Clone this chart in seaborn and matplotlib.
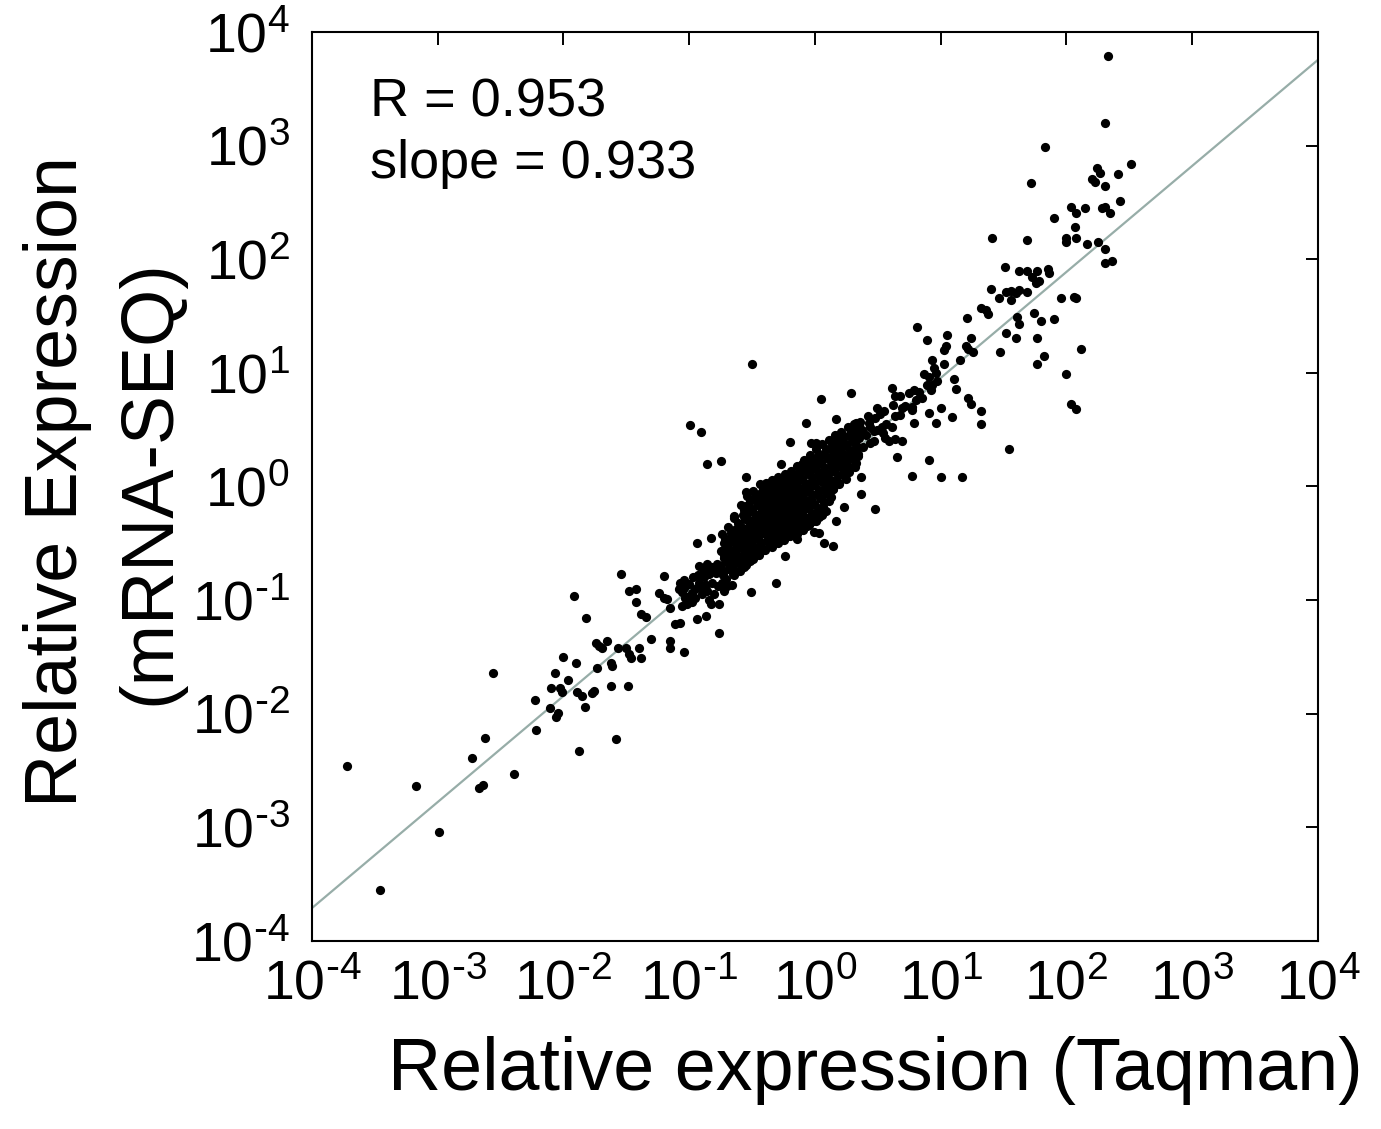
import numpy as np
import pandas as pd
import matplotlib
matplotlib.use("Agg")
import matplotlib.pyplot as plt
from matplotlib.ticker import NullLocator
import seaborn as sns

# --- values, as log10 of expression ---
# sparse points, low end (x: Taqman, y: mRNA-SEQ)
low_taqman = [-2.00, -1.90, -2.56, -2.07, -1.96, -2.10, -2.03, -2.01, -1.89, -1.85,
              -1.76, -1.77, -2.23, -2.11, -1.83, -2.04, -2.06, -2.22, -2.62, -1.88,
              -3.72, -2.73, -2.39, -3.17, -2.67, -2.64, -2.99, -3.46, -1.74,
              -0.94, -0.86, -0.82, -0.79, -0.84, -0.88, -0.92, -1.54, -1.20, -1.92,
              -1.07, -1.08, -1.04, -0.92, -0.90, -0.87, -1.48, -1.42, -1.24, -1.20,
              -1.18, -1.03, -0.99, -0.95, -0.98, -1.02, -1.06, -0.84, -0.83, -1.42,
              -1.15, -0.76, -1.38, -1.34, -1.82, -0.94, -0.87, -1.11, -1.07, -1.30,
              -1.15, -1.15, -1.04, -1.65, -1.72, -1.69, -1.57, -1.50, -1.48, -1.46,
              -1.40, -1.38, -1.62, -1.61, -1.73, -1.62, -1.49, -1.58]
low_seq = [-1.50, -1.55, -1.64, -1.64, -1.70, -1.77, -1.77, -1.81, -1.81, -1.84,
           -1.80, -1.82, -1.88, -1.95, -1.94, -1.99, -2.03, -2.14, -2.21, -2.33,
           -2.46, -2.39, -2.53, -2.64, -2.65, -2.63, -3.04, -3.55, -1.38,
           -0.50, -0.68, -0.71, -0.76, -0.77, -0.74, -0.70, -0.77, -0.79, -0.96,
           -0.85, -0.90, -0.89, -0.85, -0.89, -0.87, -0.92, -0.90, -0.94, -0.98,
           -0.99, -0.98, -1.00, -0.98, -0.94, -1.03, -1.05, -1.00, -1.03, -1.02,
           -1.07, -1.03, -1.12, -1.15, -1.16, -1.17, -1.14, -1.21, -1.20, -1.34,
           -1.36, -1.42, -1.46, -1.36, -1.40, -1.42, -1.42, -1.42, -1.47, -1.51,
           -1.42, -1.51, -1.55, -1.58, -1.60, -1.76, -1.76, -2.22]

# sparse points around the dense cluster
mid_taqman = [-0.76, -0.31, -0.51, -0.45, -0.24, -0.14, -0.83, -0.64, -0.55, -0.55,
              -0.55, -0.27, -0.10, -0.02, -0.20, -0.03, 0.01, -0.07, -0.86, -0.75,
              -0.99, -0.91, -0.50,
              -1.04, -1.00, -0.97, -0.95, -0.93, -0.90, -0.88, -0.86, -0.84, -0.82,
              -0.80, -0.78, -0.77, -0.74, -0.72, -0.70, -0.66, -1.06, -1.02, -0.98]
mid_seq = [-1.29, -0.85, -0.93, -0.59, -0.61, -0.46, -0.45, -0.26, -0.17, -0.05,
           0.08, 0.20, 0.20, 0.23, 0.39, 0.38, 0.38, 0.56, 0.20, 0.22,
           0.54, 0.48, 1.08,
           -0.82, -0.86, -0.80, -0.90, -0.78, -0.95, -0.80, -0.92, -0.72, -0.85,
           -0.95, -0.68, -0.88, -0.85, -0.92, -0.88, -0.87, -0.93, -0.97, -1.02]

# dense cluster around 10^0
core_taqman = [
    -0.74, -0.725, -0.75, -0.72, -0.755, -0.73,
    -0.69, -0.675, -0.70, -0.67, -0.705, -0.68, -0.71,
    -0.64, -0.625, -0.65, -0.62, -0.655, -0.63, -0.66, -0.645,
    -0.59, -0.575, -0.60, -0.57, -0.605, -0.58, -0.61, -0.585, -0.595,
    -0.54, -0.525, -0.55, -0.52, -0.555, -0.53, -0.56, -0.535, -0.545,
    -0.49, -0.475, -0.50, -0.47, -0.505, -0.48, -0.51, -0.485, -0.495,
    -0.44, -0.425, -0.45, -0.42, -0.455, -0.43, -0.46, -0.435, -0.445,
    -0.39, -0.375, -0.40, -0.37, -0.405, -0.38, -0.41, -0.385, -0.395,
    -0.34, -0.325, -0.35, -0.32, -0.355, -0.33, -0.36, -0.335, -0.345,
    -0.29, -0.275, -0.30, -0.27, -0.305, -0.28, -0.31, -0.285, -0.295,
    -0.24, -0.225, -0.25, -0.22, -0.255, -0.23, -0.26, -0.235, -0.245,
    -0.19, -0.175, -0.20, -0.17, -0.205, -0.18, -0.21, -0.185, -0.195,
    -0.14, -0.125, -0.15, -0.12, -0.155, -0.13, -0.16, -0.135, -0.145,
    -0.09, -0.075, -0.10, -0.07, -0.105, -0.08, -0.11, -0.085, -0.095,
    -0.04, -0.025, -0.05, -0.02, -0.055, -0.03, -0.06, -0.035, -0.045,
    0.01, 0.025, 0.00, 0.03, -0.005, 0.02, -0.01, 0.015, 0.005,
    0.06, 0.075, 0.05, 0.08, 0.045, 0.07, 0.04, 0.065, 0.055,
    0.11, 0.125, 0.10, 0.13, 0.095, 0.12, 0.09, 0.115,
    0.16, 0.175, 0.15, 0.18, 0.145, 0.17, 0.14,
    0.21, 0.225, 0.20, 0.23, 0.195, 0.22, 0.19,
    0.26, 0.275, 0.25, 0.28, 0.245, 0.27,
    0.31, 0.325, 0.30, 0.33, 0.295, 0.32,
    0.36, 0.375, 0.35, 0.38, 0.345,
    0.42, 0.435, 0.41, 0.44,
    0.48, 0.495, 0.47,
    0.55, 0.565, 0.54,
    0.62, 0.635, 0.61]
core_seq = [
    -0.42, -0.50, -0.57, -0.63, -0.70, -0.78,
    -0.36, -0.45, -0.52, -0.59, -0.66, -0.73, -0.81,
    -0.28, -0.37, -0.44, -0.50, -0.57, -0.64, -0.71, -0.78,
    -0.16, -0.25, -0.33, -0.40, -0.47, -0.54, -0.61, -0.68, -0.74,
    -0.08, -0.18, -0.26, -0.33, -0.41, -0.48, -0.55, -0.62, -0.69,
    -0.04, -0.12, -0.20, -0.28, -0.35, -0.42, -0.50, -0.57, -0.64,
    0.02, -0.06, -0.14, -0.22, -0.30, -0.37, -0.45, -0.52, -0.60,
    0.03, -0.05, -0.12, -0.19, -0.27, -0.34, -0.41, -0.48, -0.56,
    0.06, -0.02, -0.09, -0.17, -0.24, -0.31, -0.38, -0.45, -0.53,
    0.08, 0.01, -0.07, -0.14, -0.21, -0.28, -0.35, -0.42, -0.50,
    0.11, 0.03, -0.04, -0.11, -0.18, -0.25, -0.32, -0.40, -0.47,
    0.14, 0.06, -0.01, -0.08, -0.15, -0.22, -0.30, -0.37, -0.44,
    0.18, 0.10, 0.03, -0.05, -0.12, -0.19, -0.27, -0.34, -0.42,
    0.23, 0.15, 0.07, 0.00, -0.08, -0.15, -0.23, -0.31, -0.38,
    0.28, 0.20, 0.12, 0.05, -0.03, -0.11, -0.19, -0.27, -0.34,
    0.33, 0.25, 0.17, 0.09, 0.01, -0.07, -0.15, -0.23, -0.30,
    0.37, 0.29, 0.21, 0.13, 0.06, -0.02, -0.10, -0.18, -0.25,
    0.41, 0.33, 0.25, 0.18, 0.10, 0.02, -0.06, -0.13,
    0.45, 0.37, 0.29, 0.22, 0.14, 0.06, -0.02,
    0.48, 0.40, 0.33, 0.25, 0.18, 0.10, 0.03,
    0.52, 0.44, 0.36, 0.29, 0.21, 0.13,
    0.55, 0.47, 0.40, 0.33, 0.25, 0.17,
    0.57, 0.50, 0.43, 0.35, 0.27,
    0.62, 0.52, 0.45, 0.38,
    0.60, 0.50, 0.40,
    0.66, 0.55, 0.47,
    0.72, 0.62, 0.52]

# more cluster points lying between the ones above
fill_taqman = [
    -0.715, -0.705, -0.725, -0.71, -0.72,
    -0.665, -0.655, -0.675, -0.66, -0.67, -0.655,
    -0.615, -0.605, -0.625, -0.61, -0.62, -0.605, -0.625,
    -0.565, -0.555, -0.575, -0.56, -0.57, -0.555, -0.575, -0.565,
    -0.515, -0.505, -0.525, -0.51, -0.52, -0.505, -0.525, -0.515,
    -0.465, -0.455, -0.475, -0.46, -0.47, -0.455, -0.475, -0.465,
    -0.415, -0.405, -0.425, -0.41, -0.42, -0.405, -0.425, -0.415,
    -0.365, -0.355, -0.375, -0.36, -0.37, -0.355, -0.375, -0.365,
    -0.315, -0.305, -0.325, -0.31, -0.32, -0.305, -0.325, -0.315,
    -0.265, -0.255, -0.275, -0.26, -0.27, -0.255, -0.275, -0.265,
    -0.215, -0.205, -0.225, -0.21, -0.22, -0.205, -0.225, -0.215,
    -0.165, -0.155, -0.175, -0.16, -0.17, -0.155, -0.175, -0.165,
    -0.115, -0.105, -0.125, -0.11, -0.12, -0.105, -0.125, -0.115,
    -0.065, -0.055, -0.075, -0.06, -0.07, -0.055, -0.075, -0.065,
    -0.015, -0.005, -0.025, -0.01, -0.02, -0.005, -0.025, -0.015,
    0.035, 0.045, 0.025, 0.04, 0.03, 0.045, 0.025, 0.035,
    0.085, 0.095, 0.075, 0.09, 0.08, 0.095, 0.075, 0.085,
    0.135, 0.145, 0.125, 0.14, 0.13, 0.145, 0.125,
    0.185, 0.195, 0.175, 0.19, 0.18, 0.195,
    0.235, 0.245, 0.225, 0.24, 0.23, 0.245,
    0.285, 0.295, 0.275, 0.29, 0.28,
    0.335, 0.345, 0.325, 0.34, 0.33]
fill_seq = [
    -0.46, -0.535, -0.60, -0.665, -0.74,
    -0.405, -0.485, -0.555, -0.625, -0.695, -0.77,
    -0.325, -0.405, -0.47, -0.535, -0.605, -0.675, -0.745,
    -0.205, -0.29, -0.365, -0.435, -0.505, -0.575, -0.645, -0.71,
    -0.13, -0.22, -0.295, -0.37, -0.445, -0.515, -0.585, -0.655,
    -0.08, -0.16, -0.24, -0.315, -0.385, -0.46, -0.535, -0.605,
    -0.02, -0.10, -0.18, -0.26, -0.335, -0.41, -0.485, -0.56,
    -0.01, -0.085, -0.155, -0.23, -0.305, -0.375, -0.445, -0.52,
    0.02, -0.055, -0.13, -0.205, -0.275, -0.345, -0.415, -0.49,
    0.045, -0.03, -0.105, -0.175, -0.245, -0.315, -0.385, -0.46,
    0.07, -0.005, -0.075, -0.145, -0.215, -0.285, -0.36, -0.435,
    0.10, 0.025, -0.045, -0.115, -0.185, -0.26, -0.335, -0.405,
    0.14, 0.065, -0.01, -0.085, -0.155, -0.23, -0.305, -0.38,
    0.19, 0.11, 0.035, -0.04, -0.115, -0.19, -0.27, -0.345,
    0.24, 0.16, 0.085, 0.01, -0.07, -0.15, -0.23, -0.305,
    0.29, 0.21, 0.13, 0.05, -0.03, -0.11, -0.19, -0.265,
    0.33, 0.25, 0.17, 0.095, 0.02, -0.06, -0.14, -0.215,
    0.37, 0.29, 0.215, 0.14, 0.06, -0.02, -0.095,
    0.41, 0.33, 0.255, 0.18, 0.10, 0.02,
    0.44, 0.365, 0.29, 0.215, 0.14, 0.065,
    0.48, 0.40, 0.325, 0.25, 0.17,
    0.51, 0.435, 0.365, 0.29, 0.21]

# sparse points, high end
high_taqman = [0.05, 0.29, 0.61, 0.64, 0.68, 0.75, 0.79, 0.80, 0.72, 0.77,
               0.17, 0.33, 0.35, 0.43, 0.49, 0.52, 0.47, 0.53, 0.56, 0.59,
               0.64, 0.69, 0.79, 0.65, 0.77, 0.37, 0.37, 0.23, 0.48, 0.17,
               -0.01, 0.03, 0.07, 0.14,
               0.81, 0.89, 1.05, 1.04, 1.03, 1.21, 1.32, 1.36, 1.38, 1.46,
               1.52, 1.56, 1.60, 1.69, 1.61, 1.62, 1.74, 1.24, 1.20, 1.22,
               1.26, 1.52, 1.60, 1.47, 1.77, 1.77, 1.15, 0.93, 0.95, 1.03,
               0.87, 0.91, 0.96, 0.97, 0.89, 0.93, 0.92, 1.11, 1.12, 0.83,
               0.85, 0.69, 0.77, 0.68, 1.22, 1.24, 0.91, 1.00, 0.96, 1.09,
               1.32, 1.32, 1.54, 0.91, 1.00, 1.17,
               2.33, 2.31, 1.83, 2.51, 2.24, 2.27, 2.20, 2.23, 2.41, 2.31,
               1.72, 2.43, 2.04, 2.08, 2.15, 2.28, 2.31, 2.35, 1.90, 1.41,
               2.07, 2.00, 2.00, 2.08, 1.69, 2.16, 2.25, 2.31, 2.31, 2.36,
               1.51, 1.62, 1.69, 1.77, 1.85, 1.86, 1.73, 1.76, 1.78, 1.40,
               1.56, 1.62, 1.96, 2.06, 2.08, 1.80, 1.90, 2.12, 1.82, 2.00,
               2.04, 2.08]
high_seq = [0.77, 0.82, 0.87, 0.80, 0.80, 0.82, 0.85, 0.76, 0.71, 0.70,
            0.59, 0.56, 0.54, 0.56, 0.69, 0.64, 0.49, 0.52, 0.43, 0.40,
            0.42, 0.40, 0.56, 0.26, 0.09, 0.08, -0.07, -0.18, -0.20, -0.30,
            -0.40, -0.41, -0.50, -0.52,
            1.40, 1.29, 1.33, 1.24, 1.20, 1.48, 1.57, 1.55, 1.52, 1.66,
            1.71, 1.64, 1.70, 1.71, 1.49, 1.43, 1.53, 1.31, 1.24, 1.21,
            1.18, 1.35, 1.31, 1.18, 1.31, 1.08, 1.11, 1.11, 1.04, 1.08,
            0.99, 0.96, 1.00, 0.93, 0.89, 0.89, 0.85, 0.95, 0.86, 0.83,
            0.78, 0.69, 0.67, 0.63, 0.78, 0.73, 0.65, 0.69, 0.56, 0.61,
            0.66, 0.55, 0.33, 0.23, 0.08, 0.08,
            3.79, 3.20, 2.99, 2.84, 2.80, 2.76, 2.71, 2.68, 2.75, 2.64,
            2.67, 2.51, 2.46, 2.41, 2.45, 2.45, 2.46, 2.41, 2.36, 2.19,
            2.28, 2.19, 2.15, 2.19, 2.17, 2.13, 2.15, 2.09, 1.97, 1.98,
            1.93, 1.90, 1.90, 1.90, 1.91, 1.88, 1.84, 1.79, 1.81, 1.74,
            1.72, 1.73, 1.66, 1.67, 1.66, 1.46, 1.47, 1.21, 1.15, 0.99,
            0.73, 0.68]

# fitted line (log10 space) and annotation
fit_slope = 0.933
fit_intercept = 0.022
r_value = 0.953
decades = [-4, -3, -2, -1, 0, 1, 2, 3, 4]

taqman_log = low_taqman + mid_taqman + core_taqman + fill_taqman + high_taqman
seq_log = low_seq + mid_seq + core_seq + fill_seq + high_seq
df = pd.DataFrame({"taqman": 10.0 ** np.array(taqman_log),
                   "seq": 10.0 ** np.array(seq_log)})

line_x = 10.0 ** np.array([decades[0], decades[-1]], dtype=float)
line_df = pd.DataFrame({"taqman": line_x,
                        "seq": 10.0 ** (fit_intercept + fit_slope * np.log10(line_x))})

sns.set_style("white")
plt.rcParams["font.family"] = ["Liberation Sans", "DejaVu Sans"]
plt.rcParams["mathtext.default"] = "regular"
plt.rcParams["text.color"] = "black"
plt.rcParams["axes.labelcolor"] = "black"

fig = plt.figure(figsize=(13.81, 11.29), dpi=100)
ax = fig.add_axes([0.2259, 0.1665, 0.7284, 0.8052])
ax.set_xscale("log")
ax.set_yscale("log")

sns.lineplot(data=line_df, x="taqman", y="seq", ax=ax, color="#97ada8",
             linewidth=1.6, zorder=1)
sns.scatterplot(data=df, x="taqman", y="seq", ax=ax, color="black", s=44,
                marker="o", linewidth=0, zorder=2)


def decade_label(k):
    # hyphen instead of the long math minus, like the original
    exp = r"\text{-}%d" % abs(k) if k < 0 else "%d" % k
    return r"$\mathregular{10^{%s}}$" % exp


ticks = [10.0 ** k for k in decades]
labels = [decade_label(k) for k in decades]
ax.set_xlim(ticks[0], ticks[-1])
ax.set_ylim(ticks[0], ticks[-1])
ax.set_xticks(ticks)
ax.set_xticklabels(labels)
ax.set_yticks(ticks)
ax.set_yticklabels(labels)
ax.xaxis.set_minor_locator(NullLocator())
ax.yaxis.set_minor_locator(NullLocator())

ax.tick_params(axis="both", which="major", direction="in", length=9, width=1.4,
               top=True, right=True, labelsize=40, colors="black")
ax.tick_params(axis="x", pad=13)
ax.tick_params(axis="y", pad=16)
for sp in ax.spines.values():
    sp.set_linewidth(1.5)
    sp.set_color("black")

ax.set_xlabel("Relative expression (Taqman)", fontsize=53)
ax.xaxis.set_label_coords(0.56, -0.105)
ax.set_ylabel("Relative Expression\n(mRNA-SEQ)", fontsize=53, va="center",
              linespacing=1.42)
ax.yaxis.set_label_coords(-0.207, 0.505)

ax.text(0.058, 0.950, "R = %.3f\nslope = %.3f" % (r_value, fit_slope),
        transform=ax.transAxes, fontsize=39, va="top", ha="left",
        linespacing=1.3)

fig.savefig("out.png", dpi=100)
